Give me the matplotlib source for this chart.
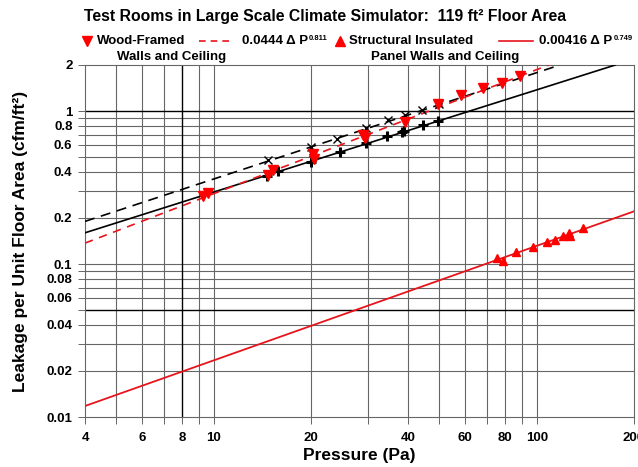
import matplotlib
matplotlib.use('Agg')
import matplotlib.pyplot as plt
from matplotlib.lines import Line2D
import numpy as np

plt.rcParams['font.family'] = ['Liberation Sans', 'DejaVu Sans']

# wood-framed walls and ceiling (red down triangles)
wood_p = [9.3, 9.6, 14.7, 15.3, 20.3, 20.5, 29.0, 29.4, 39, 49.6, 58.5, 68, 78, 88.5]
wood_q = [0.28, 0.29, 0.382, 0.41, 0.524, 0.486, 0.70, 0.67, 0.85, 1.12, 1.27, 1.41, 1.52, 1.69]

# structural insulated panel walls and ceiling (red up triangles)
sip_p = [75.4, 78.7, 86.4, 97.4, 107.7, 114, 120.8, 126, 127, 139]
sip_q = [0.109, 0.105, 0.120, 0.129, 0.139, 0.144, 0.152, 0.160, 0.152, 0.172]

# black series without legend entry
cross_p = [14.7, 20, 24.1, 29.6, 34.6, 39, 44, 49.7]
cross_q = [0.478, 0.58, 0.656, 0.77, 0.87, 0.94, 1.01, 1.12]
plus_p = [14.6, 15.8, 20, 24.7, 29.6, 34.4, 38.3, 38.9, 44.6, 49.5]
plus_q = [0.376, 0.405, 0.465, 0.54, 0.618, 0.687, 0.73, 0.745, 0.81, 0.86]

# power-law fit lines (ends)
wood_fit_p = [4, 109]
wood_fit_q = [0.137, 2.0]
sip_fit_p = [4, 200]
sip_fit_q = [0.0118, 0.221]
cross_fit_p = [4, 118]
cross_fit_q = [0.19, 2.0]
plus_fit_p = [4, 175]
plus_fit_q = [0.16, 2.0]

x_ticks = [4, 6, 8, 10, 20, 40, 60, 80, 100, 200]
x_grid = [5, 6, 7, 9, 10, 20, 30, 40, 50, 60, 70, 80, 90, 100]
y_ticks = [0.01, 0.02, 0.04, 0.06, 0.08, 0.1, 0.2, 0.4, 0.6, 0.8, 1, 2]
y_grid = [0.02, 0.03, 0.04, 0.06, 0.07, 0.08, 0.09, 0.1,
          0.2, 0.3, 0.4, 0.5, 0.6, 0.7, 0.8, 0.9]
y_dark = [0.05, 1]
x_dark = [8]

fig = plt.figure(figsize=(6.38, 4.67), dpi=100)
ax = fig.add_axes([85 / 638, 1 - 417 / 467, 549 / 638, 352 / 467])
ax.set_xscale('log')
ax.set_yscale('log')
ax.set_xlim(4, 200)
ax.set_ylim(0.01, 2)

gc = '#666666'
for v in x_grid:
    ax.axvline(v, color=gc, lw=0.8, zorder=1)
for v in y_grid:
    ax.axhline(v, color=gc, lw=0.8, zorder=1)
for v in x_dark:
    ax.axvline(v, color='black', lw=1.0, zorder=1)
for v in y_dark:
    ax.axhline(v, color='black', lw=1.0, zorder=1)

ax.plot(cross_fit_p, cross_fit_q, color='black', lw=1.2, ls=(0, (6, 4)), zorder=3)
ax.plot(plus_fit_p, plus_fit_q, color='black', lw=1.2, zorder=3)
ax.plot(wood_fit_p, wood_fit_q, color='#e8141c', lw=1.2, ls=(0, (5, 4)), zorder=3)
ax.plot(sip_fit_p, sip_fit_q, color='#e8141c', lw=1.3, zorder=3)

ax.plot(cross_p, cross_q, ls='none', marker='x', ms=6, mew=1.0, color='black', zorder=4)
ax.plot(plus_p, plus_q, ls='none', marker='+', ms=7.5, mew=2.2, color='black', zorder=4)
ax.plot(wood_p, wood_q, ls='none', marker='v', ms=6.5, color='#ff0000', zorder=5)
ax.plot(sip_p, sip_q, ls='none', marker='^', ms=5.5, color='#ff0000', zorder=5)

ax.xaxis.set_minor_locator(matplotlib.ticker.NullLocator())
ax.yaxis.set_minor_locator(matplotlib.ticker.NullLocator())
ax.set_xticks(x_ticks + [5, 7, 9, 30, 50, 70, 90])
ax.set_xticklabels([str(v) for v in x_ticks] + [''] * 7)
ax.set_yticks(y_ticks + [0.03, 0.05, 0.07, 0.09, 0.3, 0.5, 0.7, 0.9])
ax.set_yticklabels([f'{v:g}' for v in y_ticks] + [''] * 8)
ax.tick_params(axis='both', direction='out', length=5, width=0.7, color=gc,
               labelsize=9.5)
ax.tick_params(axis='x', pad=6)
ax.tick_params(axis='y', pad=4)
for lab in ax.get_xticklabels() + ax.get_yticklabels():
    lab.set_fontweight('bold')
for s in ax.spines.values():
    s.set_color(gc)
    s.set_linewidth(0.8)

ax.set_xlabel('Pressure (Pa)', fontsize=12.5, fontweight='bold', labelpad=3)
ax.set_ylabel('Leakage per Unit Floor Area (cfm/ft²)', fontsize=12.5,
              fontweight='bold', labelpad=13)

W, H = 638, 467
def fx(px):
    return px / W
def fy(py):
    return 1 - py / H

fig.text(fx(325), fy(17), 'Test Rooms in Large Scale Climate Simulator:  119 ft² Floor Area',
         ha='center', va='center', fontsize=11.3, fontweight='bold')

ly = 41
fs = 9.5
fig.add_artist(Line2D([fx(87)], [fy(ly)], marker='v', ms=7, color='#ff0000', ls='none'))
fig.text(fx(97), fy(ly), 'Wood-Framed', ha='left', va='center', fontsize=fs, fontweight='bold')
fig.add_artist(Line2D([fx(199), fx(234)], [fy(ly), fy(ly)], color='#e8141c', lw=1.2,
                      ls=(0, (4, 3))))
eq1 = fig.text(fx(242), fy(ly), '0.0444 Δ P', ha='left', va='center', fontsize=fs,
               fontweight='bold')
fig.add_artist(Line2D([fx(340)], [fy(ly)], marker='^', ms=6.5, color='#ff0000', ls='none'))
fig.text(fx(349), fy(ly), 'Structural Insulated', ha='left', va='center', fontsize=fs,
         fontweight='bold')
fig.add_artist(Line2D([fx(499), fx(533)], [fy(ly), fy(ly)], color='#e8141c', lw=1.2))
eq2 = fig.text(fx(539), fy(ly), '0.00416 Δ P', ha='left', va='center', fontsize=fs,
               fontweight='bold')

# superscripts placed right after the equation texts
fig.canvas.draw()
r = fig.canvas.get_renderer()
for t, sup in [(eq1, '0.811'), (eq2, '0.749')]:
    bb = t.get_window_extent(r)
    fig.text((bb.x1 + 1) / W, fy(ly - 3), sup, ha='left', va='center', fontsize=5.5,
             fontweight='bold')

fig.text(fx(172), fy(57), 'Walls and Ceiling', ha='center', va='center', fontsize=fs,
         fontweight='bold')
fig.text(fx(445), fy(57), 'Panel Walls and Ceiling', ha='center', va='center', fontsize=fs,
         fontweight='bold')

fig.savefig('out.png', dpi=100)
